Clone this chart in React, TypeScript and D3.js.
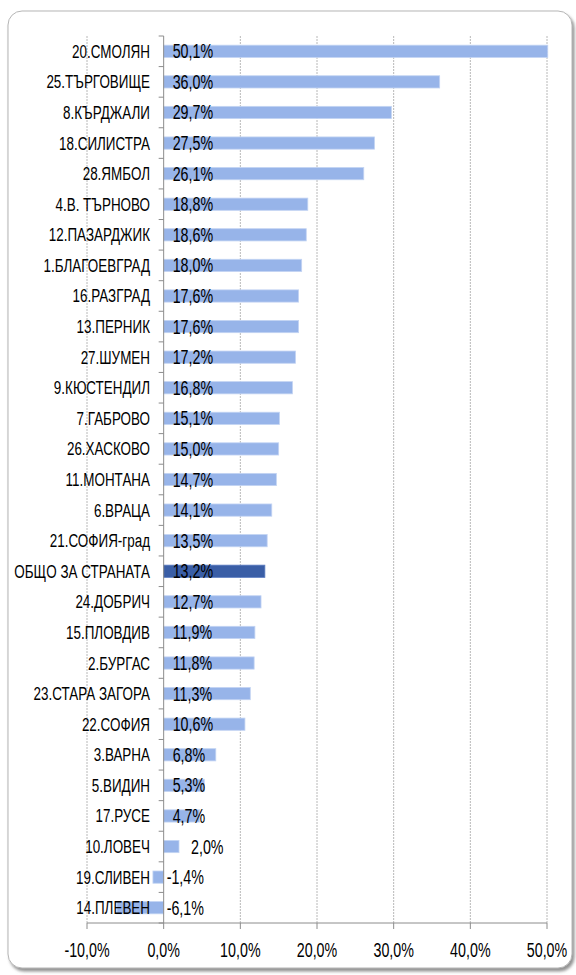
import React, { useRef, useEffect } from 'react';
import { select, scaleLinear, scaleBand } from 'd3';

const categories = [
    '20.СМОЛЯН', '25.ТЪРГОВИЩЕ', '8.КЪРДЖАЛИ', '18.СИЛИСТРА', '28.ЯМБОЛ',
    '4.В. ТЪРНОВО', '12.ПАЗАРДЖИК', '1.БЛАГОЕВГРАД', '16.РАЗГРАД', '13.ПЕРНИК',
    '27.ШУМЕН', '9.КЮСТЕНДИЛ', '7.ГАБРОВО', '26.ХАСКОВО', '11.МОНТАНА',
    '6.ВРАЦА', '21.СОФИЯ-град', 'ОБЩО ЗА СТРАНАТА', '24.ДОБРИЧ', '15.ПЛОВДИВ',
    '2.БУРГАС', '23.СТАРА  ЗАГОРА', '22.СОФИЯ', '3.ВАРНА', '5.ВИДИН',
    '17.РУСЕ', '10.ЛОВЕЧ', '19.СЛИВЕН', '14.ПЛЕВЕН'
];
const values = [
    50.1, 36.0, 29.7, 27.5, 26.1,
    18.8, 18.6, 18.0, 17.6, 17.6,
    17.2, 16.8, 15.1, 15.0, 14.7,
    14.1, 13.5, 13.2, 12.7, 11.9,
    11.8, 11.3, 10.6, 6.8, 5.3,
    4.7, 2.0, -1.4, -6.1
];
const totalLabel = 'ОБЩО ЗА СТРАНАТА';
const xTicks = [-10, 0, 10, 20, 30, 40, 50];

const W = 576;
const H = 975;
// narrow look: regular sans squeezed horizontally
const FONT = '"Liberation Sans", Arial, sans-serif';
const SX = 0.84;
const SY = 1.2;
const fmt = (v: number) => v.toFixed(1).replace('.', ',') + '%';

export default function App() {
    const svgRef = useRef<SVGSVGElement>(null);

    useEffect(() => {
        const svg = select(svgRef.current);
        svg.selectAll('*').remove();

        const top = 36, bottom = 923;
        const x = scaleLinear().domain([-10, 50]).range([87, 547]);
        const y = scaleBand<string>()
            .domain(categories)
            .range([top, bottom])
            .paddingInner(0.6)
            .paddingOuter(0.3);
        const gap = (y.step() - y.bandwidth()) / 2;

        // frame with shadow
        const defs = svg.append('defs');
        const f = defs.append('filter').attr('id', 'sh').attr('x', '-5%').attr('y', '-5%').attr('width', '110%').attr('height', '110%');
        f.append('feDropShadow').attr('dx', 2).attr('dy', 3).attr('stdDeviation', 1.5).attr('flood-color', '#777').attr('flood-opacity', 0.8);
        svg.append('rect')
            .attr('x', 8).attr('y', 11).attr('width', 564).attr('height', 957)
            .attr('rx', 14)
            .attr('fill', '#fff').attr('stroke', '#b5b5b5').attr('stroke-width', 1)
            .attr('filter', 'url(#sh)');

        // grid
        svg.append('g').selectAll('line')
            .data(xTicks.filter(t => t !== 0))
            .join('line')
            .attr('x1', d => x(d)).attr('x2', d => x(d))
            .attr('y1', top).attr('y2', bottom)
            .attr('stroke', '#b8b8b8').attr('stroke-width', 1)
            .attr('stroke-dasharray', '2,1');

        // bars
        svg.append('g').selectAll('rect')
            .data(categories)
            .join('rect')
            .attr('x', (d, i) => Math.min(x(0), x(values[i])))
            .attr('y', d => y(d)!)
            .attr('width', (d, i) => Math.abs(x(values[i]) - x(0)))
            .attr('height', y.bandwidth())
            .attr('fill', d => d === totalLabel ? '#3a5ea6' : '#97b4e9')
            .attr('stroke', d => d === totalLabel ? '#5b7cc0' : '#c3d4f3')
            .attr('stroke-width', 0.8);

        // y axis line and ticks
        const ax = svg.append('g').attr('stroke', '#8c8c8c').attr('stroke-width', 1);
        ax.append('line').attr('x1', x(0)).attr('x2', x(0)).attr('y1', top).attr('y2', bottom);
        const bounds = categories.map(c => y(c)! - gap).concat([bottom]);
        ax.selectAll('.yt').data(bounds).join('line')
            .attr('class', 'yt')
            .attr('x1', x(0) - 5).attr('x2', x(0))
            .attr('y1', d => d).attr('y2', d => d);

        // x axis
        ax.append('line').attr('x1', x(-10)).attr('x2', x(50)).attr('y1', bottom).attr('y2', bottom);
        ax.selectAll('.xt').data(xTicks).join('line')
            .attr('class', 'xt')
            .attr('x1', d => x(d)).attr('x2', d => x(d))
            .attr('y1', bottom).attr('y2', bottom + 6);

        // category labels
        svg.append('g').selectAll('text')
            .data(categories)
            .join('text')
            .attr('transform', d => `translate(150,${y(d)! + y.bandwidth() / 2 + 6.5}) scale(${SX},${SY})`)
            .attr('text-anchor', 'end')
            .attr('font-family', FONT)
            .attr('font-size', 16)
            .attr('fill', '#000')
            .text(d => d);

        // value labels
        svg.append('g').selectAll('text')
            .data(categories)
            .join('text')
            .attr('transform', (d, i) => {
                const v = values[i];
                const lx = v < 0 ? x(0) + 3 : v < 4 ? x(v) + 12 : x(0) + 9;
                return `translate(${lx},${y(d)! + y.bandwidth() / 2 + 7}) scale(${SX},${SY})`;
            })
            .attr('font-family', FONT)
            .attr('font-size', 17)
            .attr('fill', '#000')
            .text((d, i) => fmt(values[i]));

        // x tick labels
        svg.append('g').selectAll('text')
            .data(xTicks)
            .join('text')
            .attr('transform', d => `translate(${x(d)},${bottom + 34}) scale(${SX},${SY})`)
            .attr('text-anchor', 'middle')
            .attr('font-family', FONT)
            .attr('font-size', 17)
            .attr('fill', '#000')
            .text(d => fmt(d));
    }, []);

    return (
        <svg ref={svgRef} width={W} height={H}
            style={{ position: 'absolute', left: 0, top: 0, background: '#fff' }} />
    );
}
